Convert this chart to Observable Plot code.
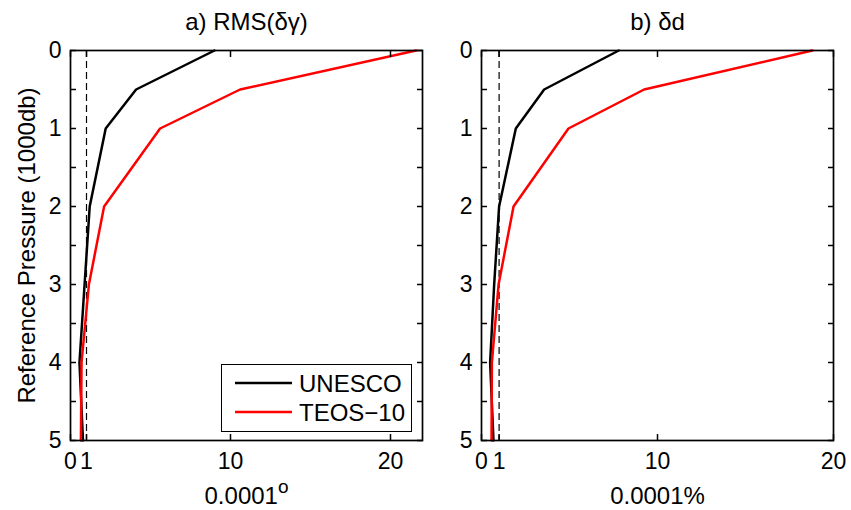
<!DOCTYPE html>
<html>
<head>
<meta charset="utf-8">
<script src="https://cdn.jsdelivr.net/npm/d3@7"></script>
<script src="https://cdn.jsdelivr.net/npm/@observablehq/plot@0.6"></script>
<style>
  html, body { margin: 0; padding: 0; background: #fff; }
  #wrap { position: relative; width: 851px; height: 510px; font-family: "Liberation Sans", Arial, Helvetica, sans-serif; }
  #wrap svg { position: absolute; top: 0; overflow: visible; }
  #legend { position: absolute; left: 221px; top: 364px; width: 189px; height: 66px; border: 1.3px solid #000; background: #fff; }
</style>
</head>
<body>
<div id="wrap"></div>
<script>
// ---- data ----
const pressure = [0, 0.5, 1, 2, 3, 4, 5];          // reference pressure, 1000 db
const gammaUNESCO = [9.0, 4.1, 2.2, 1.2, 0.88, 0.56, 0.78];   // panel a, 0.0001°
const gammaTEOS   = [21.6, 10.6, 5.6, 2.1, 1.15, 0.69, 0.65];
const dUNESCO = [7.8, 3.56, 1.95, 1.0, 0.72, 0.49, 0.68];     // panel b, 0.0001%
const dTEOS   = [18.8, 9.24, 4.94, 1.82, 0.97, 0.59, 0.57];
const seriesNames = ["UNESCO", "TEOS-10"];
const seriesColors = ["#000000", "#ff0000"];
const titles = ["a) RMS(δγ)", "b) δd"];
const xLabels = ["0.0001°", "0.0001%"];
const yLabel = "Reference Pressure (1000db)";
const xTicks = [0, 1, 10, 20];
const yTicks = [0, 1, 2, 3, 4, 5];
const yMinorTicks = d3.range(0, 5.001, 0.5);
const xDomains = [[0, 22], [0, 20]];
const refLine = [1];

const font = "Liberation Sans, Arial, Helvetica, sans-serif";

function rows(values) { return pressure.map((p, i) => ({p, v: values[i]})); }

function panel(i, a, b, opts) {
  const marks = [
    Plot.ruleX(refLine, {stroke: "#000", strokeWidth: 1.2, strokeDasharray: "7,4"}),
    Plot.line(rows(a), {x: "v", y: "p", stroke: seriesColors[0], strokeWidth: 2.5}),
    Plot.line(rows(b), {x: "v", y: "p", stroke: seriesColors[1], strokeWidth: 2.5}),
    Plot.frame({stroke: "#000", strokeWidth: 1.7}),
    // inward ticks on all four sides
    Plot.axisY({anchor: "left", ticks: yMinorTicks, tickSize: -6, fill: "none", strokeWidth: 1.5, label: null}),
    Plot.axisY({anchor: "right", ticks: yMinorTicks, tickSize: -6, fill: "none", strokeWidth: 1.5, label: null}),
    Plot.axisX({anchor: "bottom", ticks: xTicks, tickSize: -6, fill: "none", strokeWidth: 1.5, label: null}),
    Plot.axisX({anchor: "top", ticks: xTicks, tickSize: -6, fill: "none", strokeWidth: 1.5, label: null}),
    // tick labels
    Plot.axisY({anchor: "left", ticks: yTicks, tickSize: 0, tickPadding: 9, fontSize: 23, label: null, tickFormat: d3.format("d")}),
    Plot.axisX({anchor: "bottom", ticks: xTicks, tickSize: 0, tickPadding: 12, fontSize: 23, label: null, tickFormat: d3.format("d")}),
    // title and x label
    Plot.text([titles[i]], {frameAnchor: "top", dy: -28, lineAnchor: "middle", fontSize: 24, fill: "#000", text: d => d}),
    Plot.text([xLabels[i]], {frameAnchor: "bottom", dy: 56, lineAnchor: "middle", fontSize: 24, fill: "#000", text: d => d})
  ];
  if (opts.yLabel) {
    marks.push(Plot.text([yLabel], {frameAnchor: "left", textAnchor: "middle", dx: -43, rotate: -90, lineAnchor: "middle", fontSize: 24, fill: "#000", text: d => d}));
  }
  const svg = Plot.plot({
    width: opts.width,
    height: 510,
    marginLeft: opts.marginLeft,
    marginRight: opts.marginRight,
    marginTop: 50,
    marginBottom: 70,
    style: {fontFamily: font, color: "#000", background: "transparent", overflow: "visible"},
    x: {domain: xDomains[i], label: null},
    y: {domain: [0, 5], reverse: true, label: null},
    marks
  });
  svg.style.left = opts.left + "px";
  return svg;
}

const wrap = document.getElementById("wrap");
wrap.appendChild(panel(0, gammaUNESCO, gammaTEOS, {left: 0, width: 430, marginLeft: 70, marginRight: 8, yLabel: true}));
wrap.appendChild(panel(1, dUNESCO, dTEOS, {left: 430, width: 421, marginLeft: 51, marginRight: 18, yLabel: false}));

// render the degree mark of "0.0001°" as a raised "o" like the original
d3.selectAll("#wrap text").each(function() {
  const t = d3.select(this);
  if (t.text() === xLabels[0]) {
    t.text(null);
    t.append("tspan").text(xLabels[0].slice(0, -1));
    t.append("tspan").attr("dy", "-0.6em").attr("font-size", 19).text("o");
  }
});

// legend
const legend = document.createElement("div");
legend.id = "legend";
const ls = d3.select(legend).append("svg").attr("width", 189).attr("height", 66).style("position", "absolute").style("left", "0px").style("top", "0px");
seriesNames.forEach((name, k) => {
  const y = 18 + k * 29;
  ls.append("line").attr("x1", 13).attr("x2", 70).attr("y1", y).attr("y2", y).attr("stroke", seriesColors[k]).attr("stroke-width", 2.5);
  ls.append("text").attr("x", 77).attr("y", y).attr("dy", "0.36em").attr("font-size", 24).attr("font-family", font).attr("fill", "#000").text(name.replace("-", "−"));
});
wrap.appendChild(legend);
</script>
</body>
</html>
